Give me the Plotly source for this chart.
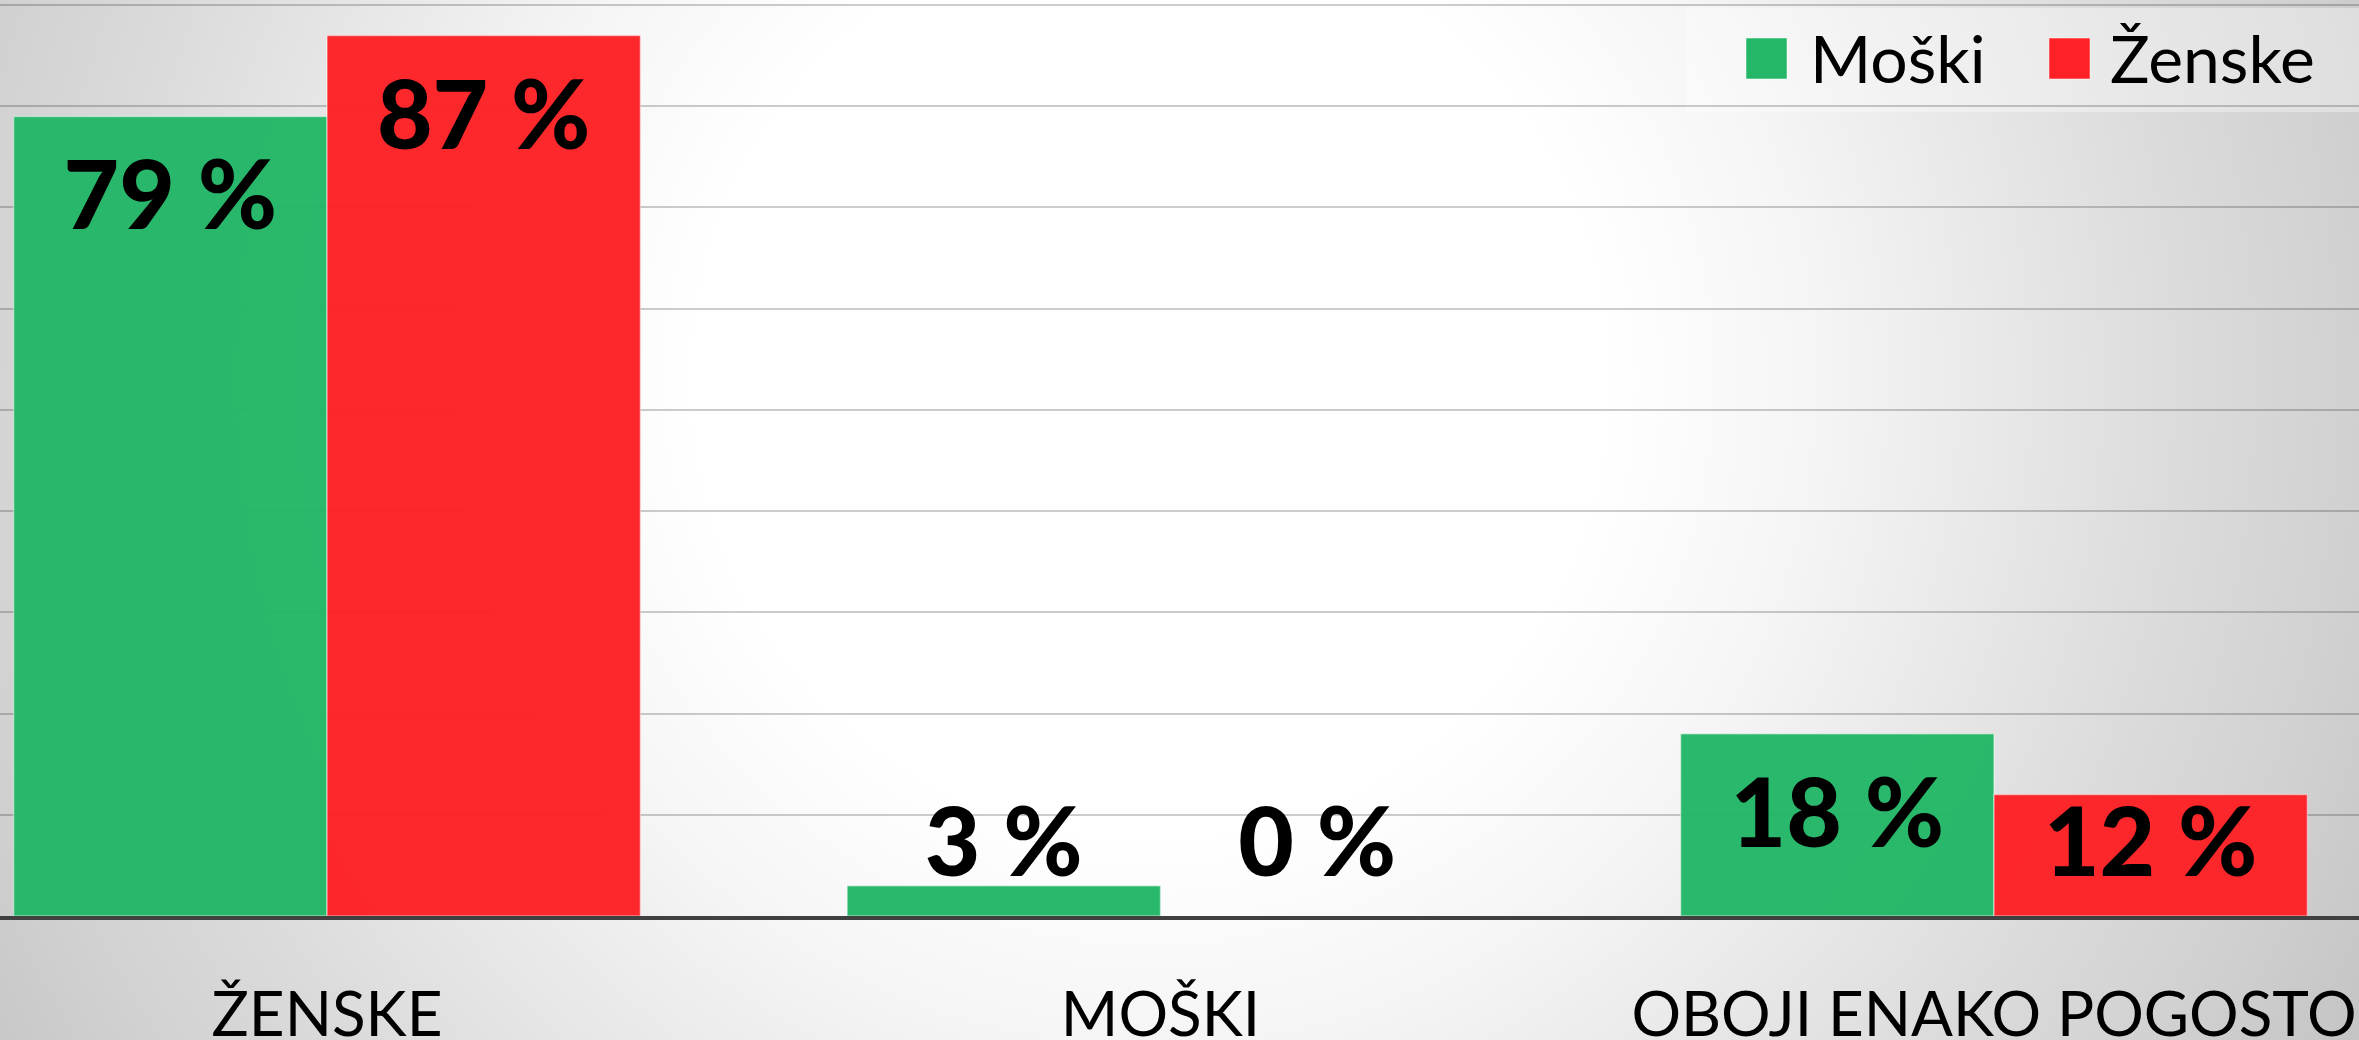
import base64
import plotly.graph_objects as go

# podatki
kategorije = ['ŽENSKE', 'MOŠKI', 'OBOJI ENAKO POGOSTO']
moski = [79, 3, 18]
zenske = [87, 0, 12]
serije = ['Moški', 'Ženske']

W, H = 2359, 1040
PLOT_BOTTOM = 916

ZELENA = '#24b768'
RDECA = '#fe2226'
FONT = 'Lato'

sirina = 0.376


def px_x(px):
    return px / W


def px_y(py):
    return (PLOT_BOTTOM - py) / PLOT_BOTTOM


# ozadje - radialni gradient kot svg slika
svg = (
    "<svg xmlns='http://www.w3.org/2000/svg' width='2359' height='1040' viewBox='0 0 2359 1040'>"
    "<defs><radialGradient id='g' gradientUnits='userSpaceOnUse' cx='1150' cy='380' r='1380'>"
    "<stop offset='0' stop-color='#ffffff'/>"
    "<stop offset='0.33' stop-color='#ffffff'/>"
    "<stop offset='0.48' stop-color='#f5f5f5'/>"
    "<stop offset='0.75' stop-color='#dbdbdb'/>"
    "<stop offset='0.87' stop-color='#d1d1d1'/>"
    "<stop offset='1' stop-color='#c4c4c4'/>"
    "</radialGradient></defs>"
    "<rect width='2359' height='1040' fill='url(#g)'/></svg>"
)
ozadje = 'data:image/svg+xml;base64,' + base64.b64encode(svg.encode()).decode()

x_idx = list(range(len(kategorije)))

fig = go.Figure()

fig.add_trace(go.Bar(
    x=x_idx, y=moski, name=serije[0], width=sirina, offset=-sirina,
    marker=dict(color=ZELENA, line=dict(color='rgba(255,255,255,0.45)', width=1.5)),
    opacity=0.97, showlegend=False, hoverinfo='skip'
))
fig.add_trace(go.Bar(
    x=x_idx, y=zenske, name=serije[1], width=sirina, offset=0,
    marker=dict(color=RDECA, line=dict(color='rgba(255,255,255,0.45)', width=1.5)),
    opacity=0.97, showlegend=False, hoverinfo='skip'
))

# oznake vrednosti (znotraj vrha stolpca, pri nizkih stolpcih nad osjo)
for vals, sign in [(moski, -1), (zenske, 1)]:
    fig.add_trace(go.Scatter(
        x=[i + sign * sirina / 2 for i in x_idx],
        y=[max(v - 8.8, 6.3) for v in vals],
        text=[f'{v} %' for v in vals],
        mode='text',
        textposition='middle center',
        textfont=dict(family=FONT, size=96, color='black', weight=900),
        showlegend=False, hoverinfo='skip'
    ))

shapes = []
annotations = []

# legenda (ročno, zaradi velikih kvadratkov)
shapes.append(dict(type='rect', xref='paper', yref='paper',
                   x0=px_x(1686), x1=1, y0=px_y(112), y1=px_y(8),
                   fillcolor='rgba(255,255,255,0.35)', line=dict(width=0), layer='below'))
leg = [(serije[0], ZELENA, 1746, 1812), (serije[1], RDECA, 2049, 2112)]
for ime, barva, sx, tx in leg:
    shapes.append(dict(type='rect', xref='paper', yref='paper',
                       x0=px_x(sx), x1=px_x(sx + 41), y0=px_y(79), y1=px_y(38),
                       fillcolor=barva, line=dict(color='rgba(255,255,255,0.5)', width=1)))
    annotations.append(dict(text=ime, xref='paper', yref='paper',
                            x=px_x(tx - 4), y=px_y(58), xanchor='left', yanchor='middle',
                            showarrow=False, font=dict(family=FONT, size=66, color='black')))

fig.update_layout(
    width=W, height=H,
    margin=dict(l=0, r=0, t=0, b=H - PLOT_BOTTOM, autoexpand=False),
    paper_bgcolor='white',
    plot_bgcolor='rgba(0,0,0,0)',
    barmode='overlay',
    showlegend=False,
    shapes=shapes,
    annotations=annotations,
    images=[dict(source=ozadje, xref='paper', yref='paper', x=0, y=1,
                 sizex=1, sizey=H / PLOT_BOTTOM, xanchor='left', yanchor='top',
                 sizing='stretch', layer='below')],
    xaxis=dict(
        range=[-327 / 833.5, (W - 327) / 833.5],
        tickvals=x_idx, ticktext=kategorije,
        tickfont=dict(family=FONT, size=62, color='black'),
        showgrid=False, zeroline=False,
        showline=True, linecolor='#404040', linewidth=4,
        ticks='', ticklabelstandoff=42, ticklabeloverflow='allow',
        automargin=False
    ),
    yaxis=dict(
        range=[0, 90.5], dtick=10,
        showgrid=True, gridcolor='rgba(0,0,0,0.2)', gridwidth=2,
        zeroline=False, showticklabels=False, showline=False, ticks='',
        automargin=False
    ),
)

fig.write_html('out.html', config={'displayModeBar': False},
               post_script="document.body.style.margin='0';document.body.style.overflow='hidden';")
